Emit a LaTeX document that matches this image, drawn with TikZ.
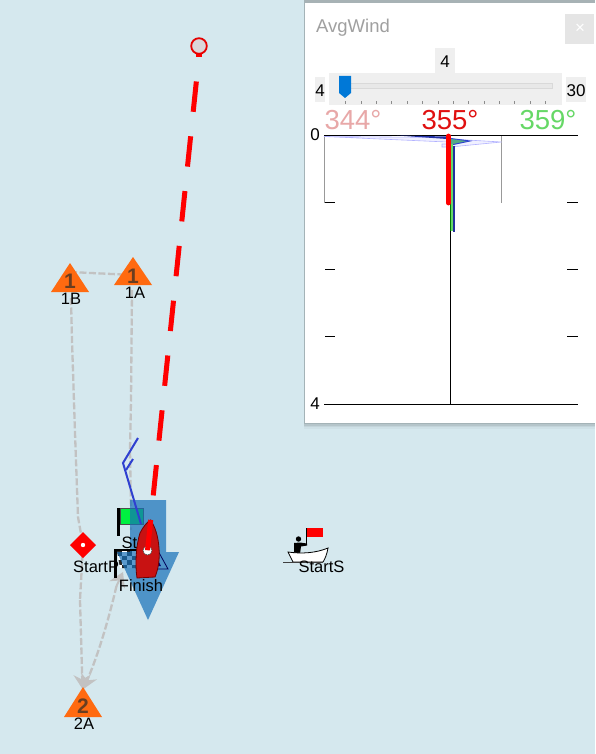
\documentclass[tikz,border=0pt]{standalone}
\usepackage{fontspec}
\setmainfont{Liberation Sans}
\usetikzlibrary{arrows.meta}
\definecolor{seabg}{HTML}{D5E8EE}
\definecolor{markorange}{HTML}{FF6A10}
\definecolor{digitdark}{HTML}{6A3E20}
\definecolor{routegray}{HTML}{C2C2C2}
\definecolor{trackblue}{HTML}{2F40D0}
\definecolor{arrowblue}{HTML}{1670B8}
\definecolor{hullred}{HTML}{C81212}
\definecolor{paneltitle}{HTML}{A0A0A0}
\definecolor{widgetbg}{HTML}{EFEFEF}
\definecolor{thumbblue}{HTML}{0078D7}
\definecolor{lowpink}{HTML}{E8A8A8}
\definecolor{midred}{HTML}{E01010}
\definecolor{highgreen}{HTML}{66D866}
\definecolor{flaggreen}{HTML}{00F040}
\tikzset{
  lbl/.style={inner sep=0pt,text=black,font=\fontsize{16.5}{18}\selectfont},
  markfill/.style={fill=markorange,draw=none},
  digit/.style={inner sep=0pt,text=digitdark,font=\bfseries\fontsize{21}{22}\selectfont},
  routeline/.style={draw=routegray,line width=2.3pt,dash pattern=on 7pt off 2.5pt},
  routetip/.style={-{Stealth[length=14pt,width=17pt,fill=routegray]}},
  trackline/.style={draw=trackblue,line width=2pt,line join=miter},
  windline/.style={draw=red,line width=5pt,dash pattern=on 30.5pt off 24.6pt,dash phase=30.5pt},
  widget/.style={fill=widgetbg,draw=none},
  widgettext/.style={inner sep=0pt,text=black,font=\fontsize{17}{18}\selectfont},
  bearing/.style={inner sep=0pt,font=\fontsize{27.5}{28}\selectfont},
  axisline/.style={draw=black,line width=1pt},
  greybox/.style={draw=gray!80,line width=0.9pt},
}
\begin{document}
\begin{tikzpicture}[x=1pt,y=-1pt]
\useasboundingbox (0,0) rectangle (595,754);
\fill[seabg] (0,0) rectangle (595,754);

% named positions
\coordinate (b1B) at (70,281);
\coordinate (b1A) at (133,275);
\coordinate (b2A) at (83,705);
\coordinate (wp1) at (72,340);
\coordinate (wp2) at (75,433);
\coordinate (wp3) at (78,517);
\coordinate (wp4) at (80,600);
\coordinate (wp5) at (131,400);
\coordinate (wp6) at (130,450);
\coordinate (wp7) at (131,510);
\coordinate (fin) at (123,572);
\coordinate (finb) at (116.5,586);
\coordinate (buoy) at (199,46);
\coordinate (buoyfoot) at (198.9,57);
\coordinate (boatc) at (147.5,550.5);

% route
\draw[routeline] (b1B) ++(0,-9) -- (b1A);
\draw[routeline] (b1B) ++(1,17) -- (wp1) -- (wp2) -- (wp3) -- (83,545) -- (wp4);
\draw[routeline,routetip] (wp4) -- (82.5,689);
\draw[routeline] (b1A) ++(-1,15) -- (wp5) -- (wp6) -- (wp7) -- (131,530);
\draw[routegray,line width=2pt,routetip] (finb) -- (fin);
\draw[routeline,routetip] (finb) .. controls (108,622) and (98,655) .. (83.5,689);

% marks
\fill[markfill] (b1B) ++(0,-18) -- ++(19,29) -- ++(-38,0) -- cycle;
\fill[markfill] (b1A) ++(0,-18) -- ++(19,28) -- ++(-38,0) -- cycle;
\fill[markfill] (b2A) ++(0,-18) -- ++(19,30) -- ++(-38,0) -- cycle;
\node[digit] (d1B) at (70,281) {1};
\node[digit] (d1A) at (133,276) {1};
\node[digit] (d2A) at (83,706) {2};
\node[lbl] (l1B) at (71,299) {1B};
\node[lbl] (l1A) at (135,293) {1A};
\node[lbl] (l2A) at (84,724) {2A};

% start mark diamond
\fill[red] (83,532) -- (96,545) -- (83,558) -- (70,545) -- cycle;
\fill[white] (83,545) circle (2.2);
\node[lbl,anchor=west] (lStartP) at (73,567) {StartP};

% green flag
\fill[black] (117,508) rectangle (120,536);
\fill[flaggreen] (120,508.5) rectangle (143,524);
\draw[black!70,line width=.6pt] (120,508.5) rectangle (143,524);

% checkered flag
\begin{scope}
\clip (117,551) -- (147,551) -- (147,568) -- (120,568) -- cycle;
\fill[white] (117,551) rectangle (147,568);
\foreach \i in {0,...,5}{\foreach \j in {0,...,3}{
  \pgfmathparse{int(mod(\i+\j,2))}
  \ifnum\pgfmathresult=0 \fill[black!85] ({117+\i*5},{551+\j*4.5}) rectangle ++(5,4.5); \fi
}}
\end{scope}

% large blue arrow
\fill[arrowblue,opacity=.7] (130,500) -- (166,500) -- (166,552) -- (179,552) -- (148,620) -- (117,552) -- (130,552) -- cycle;
\fill[black] (114,549) rectangle (117.3,578);
\fill[black] (114,549) rectangle (140,551);

% small triangle on the arrow
\draw[black!65!blue,line width=.8pt] (157,549) -- (168,569) -- (146,569) -- cycle;
\fill[black!55!blue] (158,560) -- (161,566) -- (155,566) -- cycle;

% track
\draw[trackline] (138,438) -- (123,463) -- (141,524);
\draw[trackline] (133,459) -- (126,470);

% text around boat
\node[lbl,anchor=west,text=black] (lSt) at (121.5,543) {St};

% boat
\draw[fill=hullred,draw=red!45!black,line width=.8pt] (150.7,520) .. controls (155,527) and (158,535) .. (159,548) .. controls (160,560) and (158,570) .. (155,577) -- (137,578) .. controls (135,565) and (136,545) .. (140,533) .. controls (143,527) and (147,522) .. (150.7,520) -- cycle;
\fill[white] (boatc) circle (4.5);
\draw[black!70,line width=.5pt] (boatc) circle (4.5);
\draw[windline] (buoyfoot) -- (boatc);
\node[lbl] (lFinish) at (141,586) {Finish};

% buoy
\fill[red] (196,52) rectangle (202,57.5);
\draw[red!90!black,line width=1.8pt,fill=seabg!70!lowpink] (buoy) circle (7.8);

% committee boat
\fill[red] (306,528) rectangle (322.7,537);
\draw[black,line width=1pt] (306.5,528) -- (306.5,545);
\fill[black] (298.5,539) circle (2.7);
\fill[black] (294,543) -- (300,542.5) -- (307,543.5) -- (307,545.5) -- (301,546.5) -- (300,554) -- (294,554) -- cycle;
\draw[black,line width=.8pt,fill=white] (288,552) .. controls (302,554) and (316,553) .. (328,548) .. controls (327,554) and (325,559) .. (323,562) -- (293,562) -- cycle;
\draw[black!75,line width=1pt] (283,562) -- (323,562);
\node[lbl] (lStartS) at (321.5,567) {StartS};

% panel shadow and panel
\foreach \k/\o in {6/.03,4/.05,2.5/.07,1/.09}{
  \fill[black,opacity=\o] (304,0) rectangle (595,{423+\k});
}
\fill[black!30,opacity=.25] (305,0) rectangle (595,3);
\fill[white] (305,3) rectangle (595,423);

\node[inner sep=0pt,anchor=west,text=paneltitle,font=\fontsize{18.5}{20}\selectfont] (title) at (316,28) {AvgWind};
\fill[black!10] (565,14) rectangle (594,44);
\node[inner sep=0pt,text=white,font=\fontsize{17}{18}\selectfont] (closex) at (580,29) {×};

\fill[widget] (435,48) rectangle (455,73);
\node[widgettext] (sval) at (445,62) {4};
\fill[widget] (329,73) rectangle (562,105);
\fill[widget] (315,77) rectangle (325,102);
\fill[widget] (566,77) rectangle (586,102);
\node[widgettext] (smin) at (320,91) {4};
\node[widgettext] (smax) at (576,91) {30};
\draw[black!15,fill=black!9,line width=.6pt] (339,83.5) rectangle (552,88.5);
\fill[thumbblue] (339,76) -- (351,76) -- (351,93) -- (345,98) -- (339,93) -- cycle;
\foreach \t in {0,...,13}{\draw[black!45,line width=.5pt] ({345.5+\t*15.38},101.5) -- ++(0,3);}

\node[bearing,text=lowpink] (b344) at (353,120) {344°};
\node[bearing,text=midred] (b355) at (450,120) {355°};
\node[bearing,text=highgreen] (b359) at (548,120) {359°};

% chart
\draw[greybox] (324.5,135.5) -- (324.5,202.5);
\draw[greybox] (501.5,135.5) -- (501.5,202.5);
\draw[axisline] (450.3,135.5) -- (450.3,404.3);
\draw[axisline] (324,135.5) -- (578,135.5);
\draw[axisline] (324,404.3) -- (578,404.3);
\foreach \y in {202.5,269.5,336.5}{
  \draw[axisline] (325,\y) -- (335,\y);
  \draw[axisline] (567,\y) -- (578,\y);
}
\node[widgettext] (c0) at (315,135) {0};
\node[widgettext] (c4) at (315,404) {4};
\draw[blue!30,line width=.6pt,fill=blue!6] (324,136.5) -- (447,142) -- (447,137.5) -- cycle;
\draw[blue!30,line width=.6pt,fill=blue!6] (450,139) -- (501.5,142) -- (450,147) -- (442,147) -- (442,144) -- (450,144);
\fill[trackblue!80!black] (397,135.5) -- (447,136.5) -- (447,139) -- cycle;
\fill[highgreen!70!trackblue] (451,138.5) -- (470,141) -- (451,145) -- cycle;
\draw[trackblue,line width=.9pt] (451,138.5) -- (470,141) -- (451,145);
\fill[highgreen] (450.6,144) rectangle (453,231);
\fill[black!30!green,opacity=.7] (450,144) rectangle (450.8,231);
\fill[trackblue!75!black] (453,146) rectangle (454.6,231.5);
\draw[red,line width=4.8pt,line cap=round] (448.4,136) -- (448.4,203);
\end{tikzpicture}
\end{document}
